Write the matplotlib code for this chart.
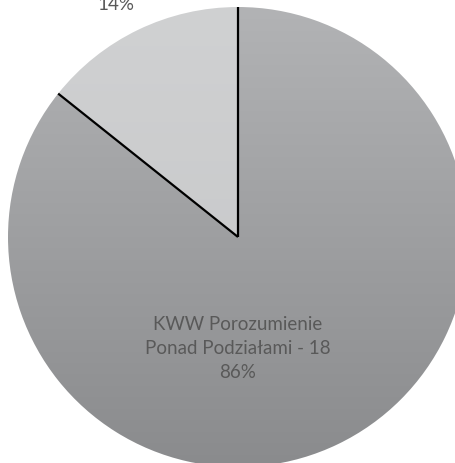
import matplotlib
matplotlib.use("Agg")
import matplotlib.pyplot as plt
import numpy as np
from matplotlib.colors import LinearSegmentedColormap

# data
labels = ["", "KWW Porozumienie\nPonad Podziałami - 18"]
values = [3, 18]
pct_text = ["14%", "86%"]

plt.rcParams['font.family'] = ['Lato', 'DejaVu Sans']

fig = plt.figure(figsize=(4.56, 4.63), dpi=100)
ax = fig.add_axes([0, 0, 1, 1])

cx, cy, r = 238, 226, 230
start = 90

wedges, _ = ax.pie(values, startangle=start, counterclock=True,
                   center=(cx, cy), radius=r,
                   colors=['none', 'none'], wedgeprops=dict(linewidth=0))

# gradient fills clipped to each wedge
grad = np.linspace(1, 0, 256).reshape(-1, 1)
cmaps = [LinearSegmentedColormap.from_list('s', ['#c4c5c7', '#d0d1d2']),
         LinearSegmentedColormap.from_list('b', ['#8a8b8d', '#b2b3b5'])]
for w, cm in zip(wedges, cmaps):
    im = ax.imshow(grad, cmap=cm, aspect='auto',
                   extent=(cx - r, cx + r, cy - r, cy + r), zorder=1)
    im.set_clip_path(w)

# separator lines along the radii
total = sum(values)
angles = start + 360 * np.cumsum([0] + values[:-1]) / total
for a in angles:
    t = np.deg2rad(a)
    ax.plot([cx, cx + r * np.cos(t)], [cy, cy + r * np.sin(t)],
            color='black', lw=1.6, zorder=3, solid_capstyle='butt')

# labels (the small slice's label sits partly above the frame, as in the source)
mid_small = np.deg2rad(start + 360 * values[0] / total / 2 + 2)
ax.text(cx + 1.14 * r * np.cos(mid_small), cy + 1.005 * r + 1,
        pct_text[0], ha='center', va='center', fontsize=13.5, color='#595959')
ax.text(cx, 115, labels[1] + "\n" + pct_text[1], ha='center', va='center',
        fontsize=13.5, color='#595959', linespacing=1.5)

ax.set_xlim(0, 456)
ax.set_ylim(0, 463)
ax.axis('off')

fig.savefig('out.png', dpi=100, facecolor='white')
